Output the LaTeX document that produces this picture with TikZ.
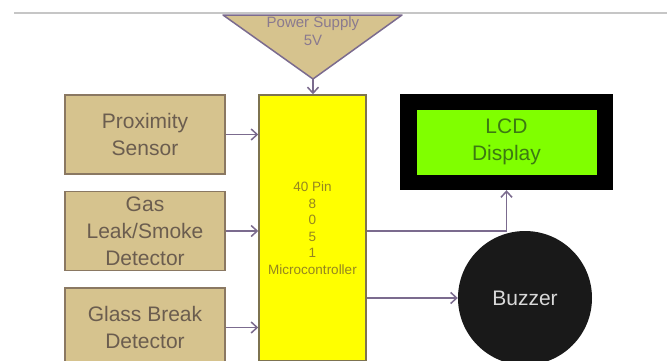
\documentclass[tikz,border=0pt]{standalone}
\usepackage{fontspec}
\setmainfont{Liberation Sans}
\usetikzlibrary{arrows.meta, positioning, calc}
\definecolor{sensortan}{HTML}{D6C38E}
\definecolor{sensoredge}{HTML}{8A7862}
\definecolor{sensortext}{HTML}{6B5D4F}
\definecolor{wirecol}{HTML}{7B6B8E}
\definecolor{mcuyellow}{HTML}{FFFF00}
\definecolor{mcuedge}{HTML}{7D7350}
\definecolor{mcutext}{HTML}{958620}
\definecolor{lcdgreen}{HTML}{80FF00}
\definecolor{lcdtext}{HTML}{3C7A12}
\definecolor{pstext}{HTML}{8A7A8E}
\tikzset{
  sensorbox/.style={
    draw=sensoredge, line width=1.5pt, fill=sensortan, text=sensortext,
    minimum width=160pt, minimum height=79pt, inner sep=0pt,
    align=center, font=\fontsize{21}{27}\selectfont
  },
  mcubox/.style={
    draw=mcuedge, line width=1.5pt, fill=mcuyellow, text=mcutext,
    minimum width=107pt, minimum height=266pt, inner sep=0pt,
    align=center, font=\fontsize{13.5}{16.5}\selectfont
  },
  lcdframebox/.style={
    fill=black, minimum width=213pt, minimum height=96pt, inner sep=0pt
  },
  lcdbox/.style={
    fill=lcdgreen, text=lcdtext, minimum width=180pt, minimum height=65pt,
    inner sep=0pt, align=center, font=\fontsize{21}{27}\selectfont
  },
  buzzerdisc/.style={
    circle, fill=black!90, text=white!85!black, minimum size=134pt,
    inner sep=0pt, font=\fontsize{21}{27}\selectfont
  },
  sysarrow/.style={
    -{Straight Barb[length=6pt,width=11pt]}, line width=1.5pt, color=wirecol
  },
}

\begin{document}
\begin{tikzpicture}[x=1pt, y=-1pt, node distance=16pt]
  \clip (0,0) rectangle (667,360);
  \fill[white] (0,0) rectangle (667,360);
  \draw[gray!45, line width=1.5pt] (14,13) -- (667,13);

  % ── power supply (top) ──
  \coordinate (pstl) at (223,15);
  \coordinate (pstr) at (402,15);
  \coordinate (psapex) at (313,79);
  \draw[fill=sensortan, draw=wirecol, line width=1.5pt, line join=round]
    (pstl) -- (pstr) -- (psapex) -- cycle;
  \node[text=pstext, align=center, font=\fontsize{15}{18}\selectfont]
    (power) at (313,31) {Power Supply\\5V};

  % ── sensors (left) ──
  \node[sensorbox] (prox) at (145,134.5) {Proximity\\Sensor};
  \node[sensorbox, below=of prox] (gas) {Gas\\Leak/Smoke\\Detector};
  \node[sensorbox, below=of gas] (glass) {Glass Break\\Detector};

  % ── controller ──
  \node[mcubox] (mcu) at (312.5,228)
    {40 Pin\\8\\0\\5\\1\\Microcontroller};

  % ── outputs (right) ──
  \node[lcdframebox] (lcdframe) at (506.5,142) {};
  \node[lcdbox] (lcd) at (lcdframe.center) {LCD\\Display};
  \node[buzzerdisc] (buzzer) at (525,298) {Buzzer};

  % ── connections ──
  \draw[sysarrow] (psapex) -- (psapex |- mcu.north);
  \draw[sysarrow] (prox.east) -- (prox.east -| mcu.west);
  \draw[sysarrow] (gas.east) -- (gas.east -| mcu.west);
  \draw[sysarrow] (glass.east) -- (glass.east -| mcu.west);
  \draw[sysarrow] (mcu.east |- gas.east) -| (lcdframe.south);
  \draw[sysarrow] (mcu.east |- buzzer.west) -- (buzzer.west);
\end{tikzpicture}
\end{document}
